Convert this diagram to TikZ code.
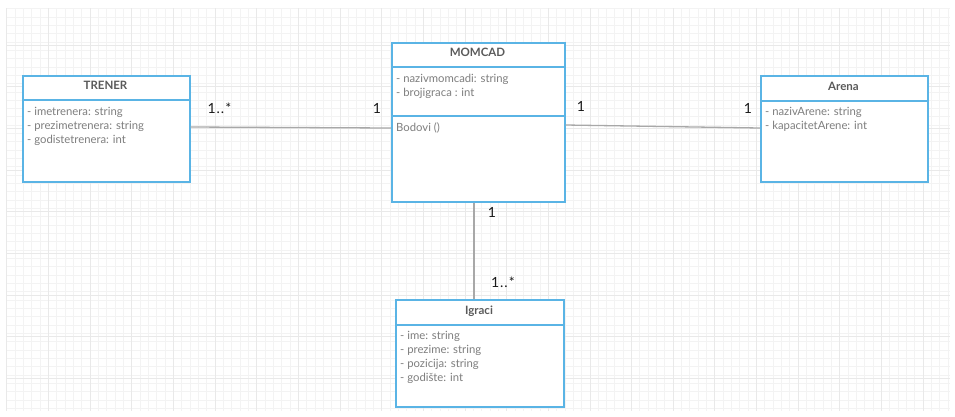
\documentclass[tikz,border=0pt]{standalone}
\usepackage{fontspec}
\setmainfont{Lato}
\definecolor{boxblue}{HTML}{5AB4E5}
\definecolor{hdrtext}{HTML}{5A5A5A}
\definecolor{attrtext}{HTML}{7E7E7E}
\definecolor{linkgray}{HTML}{A8A8A8}
\definecolor{gridminor}{HTML}{F3F3F3}
\definecolor{gridmajor}{HTML}{E9E9E9}
\newcommand{\manymult}{1\kern0.9pt.\kern0.9pt.\kern1.2pt*}
\tikzset{
  classbox/.style={draw=boxblue, line width=1.6pt, fill=white, anchor=north west, inner sep=0pt},
  sepline/.style={draw=boxblue, line width=1.6pt},
  hdr/.style={font=\fontsize{11.5}{13}\selectfont\bfseries, text=hdrtext, inner sep=0pt, anchor=base},
  attr/.style={font=\fontsize{11.3}{14}\selectfont, text=attrtext, anchor=base west, inner sep=0pt},
  link/.style={draw=linkgray, line width=1.3pt},
  mult/.style={font=\fontsize{14}{16}\selectfont, text=black!90, inner sep=0pt}
}
\begin{document}
\begin{tikzpicture}[x=1pt,y=-1pt]
\useasboundingbox (0,0) rectangle (955,416);
\fill[white] (0,0) rectangle (955,416);
% background grid
\foreach \i in {0,...,113} {
  \draw[gridminor, line width=0.6pt] ({6.7+8.33*\i},8) -- ({6.7+8.33*\i},411);
}
\foreach \j in {0,...,48} {
  \draw[gridminor, line width=0.6pt] (6,{8.5+8.33*\j}) -- (950,{8.5+8.33*\j});
}
\foreach \i in {0,...,22} {
  \draw[gridmajor, line width=0.6pt] ({6.7+41.65*\i},8) -- ({6.7+41.65*\i},411);
}
\foreach \j in {0,...,9} {
  \draw[gridmajor, line width=0.6pt] (6,{45+41.65*\j}) -- (950,{45+41.65*\j});
}

% TRENER
\node[classbox, minimum width=167pt, minimum height=106pt] (trener) at (22,75) {};
\draw[sepline] (22,100) -- (189,100);
\node[hdr] (trenerh) at (105.5,89) {TRENER};
\node[attr] (trener1) at (27,115) {- imetrenera: string};
\node[attr] (trener2) at (27,129) {- prezimetrenera: string};
\node[attr] (trener3) at (27,143) {- godistetrenera: int};

% MOMCAD
\node[classbox, minimum width=173pt, minimum height=159pt] (momcad) at (391,42) {};
\draw[sepline] (391,67) -- (564,67);
\draw[sepline] (391,116) -- (564,116);
\node[hdr] (momcadh) at (477.5,56) {MOMCAD};
\node[attr] (momcad1) at (396,82) {- nazivmomcadi: string};
\node[attr] (momcad2) at (396,96) {- brojigraca : int};
\node[attr] (momcadm) at (396,131) {Bodovi ()};

% Arena
\node[classbox, minimum width=167pt, minimum height=106pt] (arena) at (760,75) {};
\draw[sepline] (760,101) -- (927,101);
\node[hdr] (arenah) at (843.5,90) {Arena};
\node[attr] (arena1) at (765,115) {- nazivArene: string};
\node[attr] (arena2) at (765,129) {- kapacitetArene: int};

% Igraci
\node[classbox, minimum width=168pt, minimum height=107pt] (igraci) at (395,299) {};
\draw[sepline] (395,325) -- (563,325);
\node[hdr] (igracih) at (479,314) {Igraci};
\node[attr] (igraci1) at (400,339) {- ime: string};
\node[attr] (igraci2) at (400,353) {- prezime: string};
\node[attr] (igraci3) at (400,367) {- pozicija: string};
\node[attr] (igraci4) at (400,381) {- godište: int};

% connectors
\coordinate (t1) at (trener.east |- 0,127);
\coordinate (m1) at (momcad.west |- 0,128);
\coordinate (m2) at (momcad.east |- 0,125);
\coordinate (a1) at (arena.west |- 0,128);
\coordinate (m3) at (momcad.south -| 474,0);
\coordinate (i1) at (igraci.north -| 474,0);
\draw[link] (t1) -- (m1);
\draw[link] (m2) -- (a1);
\draw[link] (m3) -- (i1);

% multiplicities
\node[mult] (l1) at (219.5,108) {\manymult};
\node[mult] (l2) at (377,108) {1};
\node[mult] (l3) at (581,106) {1};
\node[mult] (l4) at (748,108) {1};
\node[mult] (l5) at (492,212) {1};
\node[mult] (l6) at (503,282) {\manymult};
\end{tikzpicture}
\end{document}
